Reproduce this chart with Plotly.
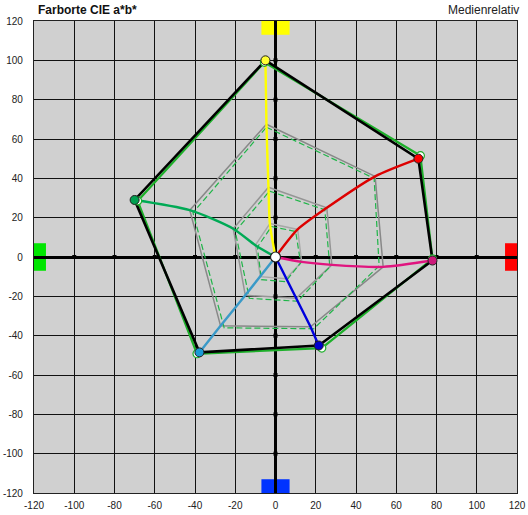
import plotly.graph_objects as go

# ---- data ----
hues = ["Gelb", "Rot", "Magenta", "Blau", "Cyan", "Grün"]
ticks = [-120, -100, -80, -60, -40, -20, 0, 20, 40, 60, 80, 100, 120]

# measured gamut (a*, b*) per saturation level, order: Y, R, M, B, C, G
meas25_a = [-2.8, 11.0, 13.0, 5.3, -7.5, -10.0]
meas25_b = [17.0, 14.0, -2.5, -11.0, -10.0, 6.0]
meas50_a = [-3.5, 25.5, 28.0, 10.3, -15.0, -21.0]
meas50_b = [35.5, 25.0, -4.0, -21.0, -19.5, 14.4]
meas75_a = [-4.5, 49.5, 53.5, 17.4, -27.3, -42.6]
meas75_b = [67.5, 41.0, -5.0, -35.5, -35.0, 23.8]
meas100_a = [-5.0, 71.0, 78.0, 21.5, -37.8, -70.0]
meas100_b = [100.0, 50.0, -1.8, -45.0, -48.5, 29.0]

# reference gamut
ref25_a = [-2.0, 10.0, 12.5, 5.0, -7.0, -9.0]
ref25_b = [15.5, 13.0, -3.0, -12.5, -11.5, 5.0]
ref50_a = [-3.0, 24.5, 27.0, 11.0, -13.0, -20.0]
ref50_b = [33.5, 24.0, -5.0, -22.5, -21.0, 13.0]
ref75_a = [-4.5, 49.0, 51.5, 19.0, -25.5, -41.0]
ref75_b = [66.0, 40.0, -4.5, -36.5, -36.0, 22.5]
ref100_a = [-5.5, 72.0, 78.0, 23.0, -39.0, -68.5]
ref100_b = [99.0, 51.5, -1.0, -46.3, -49.2, 28.5]

curve_colors = ["#ffff00", "#dd0000", "#e0157f", "#0000dd", "#3a9ac8", "#00aa55"]
curve_shapes = ["spline", "spline", "spline", "linear", "linear", "spline"]
marker_colors = ["#ffff33", "#ff0000", "#cc1a7a", "#0000cc", "#1a9ad6", "#00a050"]

fig = go.Figure()

def closed(v):
    return list(v) + [v[0]]

# gray measured polygons and green dashed reference polygons
for (ma, mb, ra, rb, gcol) in [
    (meas25_a, meas25_b, ref25_a, ref25_b, "#a8a8a8"),
    (meas50_a, meas50_b, ref50_a, ref50_b, "#959595"),
    (meas75_a, meas75_b, ref75_a, ref75_b, "#888888"),
]:
    fig.add_trace(go.Scatter(x=closed(ma), y=closed(mb), mode="lines",
                             line=dict(color=gcol, width=1.5), hoverinfo="skip"))
    fig.add_trace(go.Scatter(x=closed(ra), y=closed(rb), mode="lines",
                             line=dict(color="#1fb548", width=1.2, dash="6px,3px"), hoverinfo="skip"))

# outer reference (green) and measured (black)
fig.add_trace(go.Scatter(x=closed(ref100_a), y=closed(ref100_b), mode="lines",
                         line=dict(color="#1db02a", width=2.2), hoverinfo="skip"))
fig.add_trace(go.Scatter(x=closed(meas100_a), y=closed(meas100_b), mode="lines",
                         line=dict(color="#000000", width=2.6), hoverinfo="skip"))

# colored curves from center through measured levels
for i in range(6):
    xs = [0, meas25_a[i], meas50_a[i], meas75_a[i], meas100_a[i]]
    ys = [0, meas25_b[i], meas50_b[i], meas75_b[i], meas100_b[i]]
    fig.add_trace(go.Scatter(x=xs, y=ys, mode="lines",
                             line=dict(color=curve_colors[i], width=2.4, shape=curve_shapes[i],
                                       smoothing=0.7 if curve_shapes[i] == "spline" else None),
                             hoverinfo="skip"))

# axis tick marks on zero lines
tk = [t for t in ticks if abs(t) != 120]
fig.add_trace(go.Scatter(x=tk, y=[0]*len(tk), mode="markers",
                         marker=dict(symbol="square", size=4, color="black"), hoverinfo="skip"))
fig.add_trace(go.Scatter(x=[0]*len(tk), y=tk, mode="markers",
                         marker=dict(symbol="square", size=4, color="black"), hoverinfo="skip"))

# reference open markers
fig.add_trace(go.Scatter(x=ref100_a, y=ref100_b, mode="markers",
                         marker=dict(size=8, color="white", line=dict(color="#1db02a", width=1.2)),
                         hoverinfo="skip"))
# measured markers
fig.add_trace(go.Scatter(x=meas100_a, y=meas100_b, mode="markers",
                         marker=dict(size=9, color=marker_colors, line=dict(color="#202020", width=1)),
                         hoverinfo="skip"))
# center
fig.add_trace(go.Scatter(x=[0], y=[0], mode="markers",
                         marker=dict(size=10, color="white", line=dict(color="#202020", width=1.2)),
                         hoverinfo="skip"))

# edge color squares
sq = 7
shapes = [
    dict(type="rect", xref="x", yref="y", x0=-sq, x1=sq, y0=120 - sq, y1=120, fillcolor="#ffff00", line_width=0, layer="below"),
    dict(type="rect", xref="x", yref="y", x0=-sq, x1=sq, y0=-120, y1=-120 + sq, fillcolor="#0033ff", line_width=0, layer="below"),
    dict(type="rect", xref="x", yref="y", x0=-120, x1=-120 + sq * 0.85, y0=-sq, y1=sq, fillcolor="#00e600", line_width=0, layer="below"),
    dict(type="rect", xref="x", yref="y", x0=120 - sq * 0.85, x1=120, y0=-sq, y1=sq, fillcolor="#ff0000", line_width=0, layer="below"),
]

axis_common = dict(
    range=[-120, 120], tickmode="array", tickvals=ticks, ticktext=[str(t) for t in ticks],
    showgrid=True, gridcolor="#111111", gridwidth=1.4,
    zeroline=True, zerolinecolor="#000000", zerolinewidth=2.6,
    showline=True, linecolor="#222222", linewidth=1.2, mirror=True,
    tickfont=dict(family="Liberation Sans, Arial, sans-serif", size=10, color="#222222"),
    fixedrange=True, ticks="", automargin=False,
)

fig.update_layout(
    width=528, height=515,
    margin=dict(l=34, r=11, t=21, b=22),
    paper_bgcolor="white", plot_bgcolor="#d0d0d0",
    showlegend=False,
    xaxis=dict(**axis_common, ticklabelstandoff=3),
    yaxis=dict(**axis_common, ticklabelstandoff=8),
    shapes=shapes,
    annotations=[
        dict(text="<b>Farborte CIE a*b*</b>", xref="paper", yref="paper", x=0, y=1,
             xanchor="left", yanchor="bottom", xshift=2, yshift=2, showarrow=False,
             font=dict(family="Liberation Sans, Arial, sans-serif", size=12, color="#111111")),
        dict(text="Medienrelativ", xref="paper", yref="paper", x=1, y=1,
             xanchor="right", yanchor="bottom", xshift=4, yshift=2, showarrow=False,
             font=dict(family="Liberation Sans, Arial, sans-serif", size=12, color="#222222")),
    ],
)

fig.write_html("out.html", config={"displayModeBar": False},
               post_script="document.body.style.margin='0';document.body.style.overflow='hidden';")
